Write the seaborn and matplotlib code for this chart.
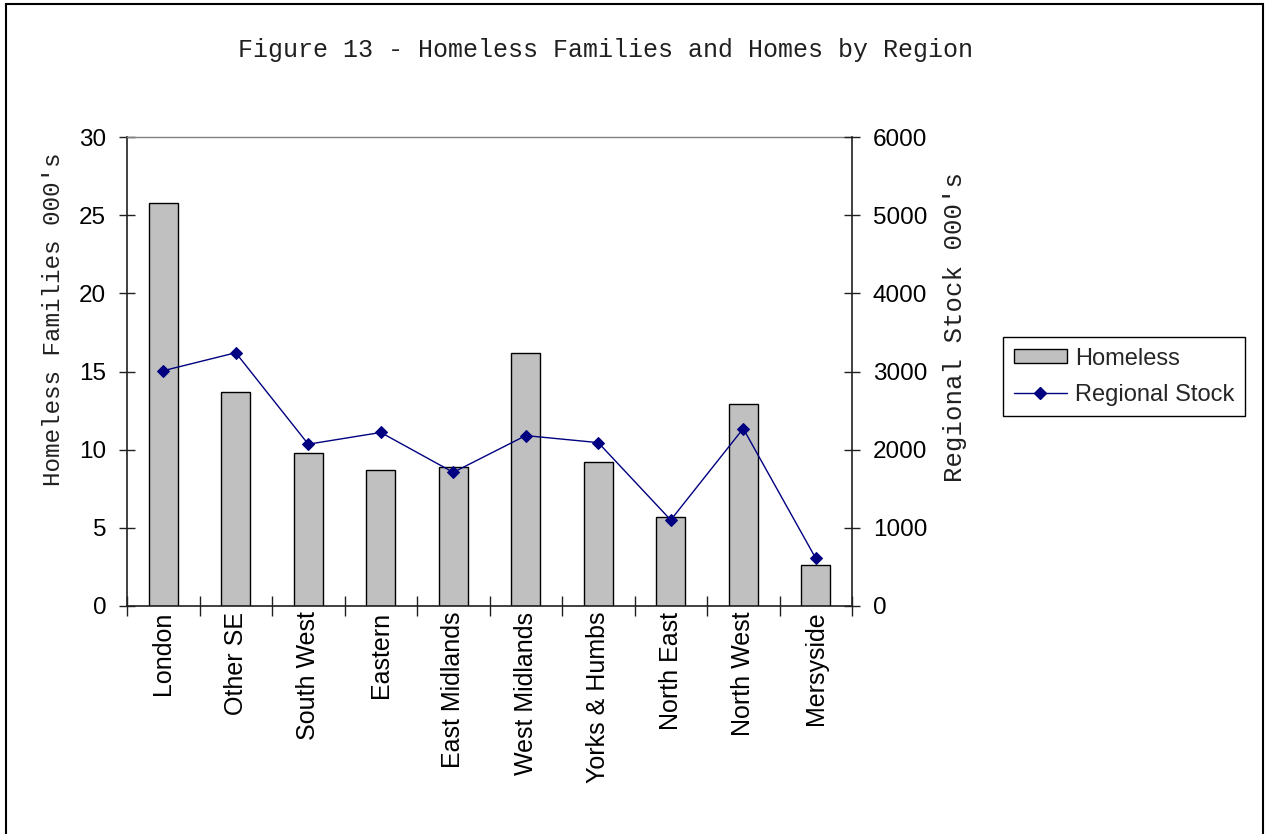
import matplotlib
matplotlib.use("Agg")
import matplotlib.pyplot as plt
import seaborn as sns
import pandas as pd
import numpy as np
from matplotlib.patches import Patch, Rectangle
from matplotlib.lines import Line2D
from matplotlib.ticker import FixedLocator, MultipleLocator

# Homeless families and regional housing stock (thousands), by region
regions = ["London", "Other SE", "South West", "Eastern", "East Midlands",
           "West Midlands", "Yorks & Humbs", "North East", "North West", "Mersyside"]
homeless = [25.8, 13.7, 9.8, 8.7, 8.9, 16.2, 9.2, 5.7, 12.9, 2.6]
regional_stock = [3010, 3240, 2070, 2220, 1710, 2180, 2090, 1100, 2270, 610]

title_text = "Figure 13 - Homeless Families and Homes by Region"
left_label = "Homeless Families 000's"
right_label = "Regional Stock 000's"
bar_name = "Homeless"
line_name = "Regional Stock"

df = pd.DataFrame({"Region": regions, bar_name: homeless, line_name: regional_stock})

sns.set_theme(style="white")
plt.rcParams["font.family"] = ["Liberation Sans", "DejaVu Sans"]

BAR_COLOR = "#c0c0c0"
LINE_COLOR = "#000080"
MONO = "Liberation Mono"

W, H = 1268, 834
fig = plt.figure(figsize=(W / 100, H / 100), dpi=100)
fig.patch.set_facecolor("white")
ax = fig.add_axes([127 / W, 1 - 606 / H, 725 / W, 469 / H])
ax2 = ax.twinx()

sns.barplot(data=df, x="Region", y=bar_name, ax=ax, color=BAR_COLOR,
            saturation=1, width=0.4, edgecolor="black", linewidth=1,
            errorbar=None)
sns.pointplot(data=df, x="Region", y=line_name, ax=ax2, color=LINE_COLOR,
              markers="D", linestyles="-", errorbar=None,
              markersize=6, linewidth=1)

n = len(regions)
ax.set_xlim(-0.5, n - 0.5)
ax.set_ylim(0, 30)
ax2.set_ylim(0, 6000)
ax.yaxis.set_major_locator(MultipleLocator(5))
ax2.yaxis.set_major_locator(MultipleLocator(1000))

# spines
for s in ax.spines.values():
    s.set_visible(True)
ax.spines["right"].set_visible(False)
ax.spines["top"].set_color("#808080")
ax.spines["top"].set_linewidth(1)
for side in ("left", "bottom"):
    ax.spines[side].set_color("#202020")
    ax.spines[side].set_linewidth(1.2)
for side in ("left", "top", "bottom"):
    ax2.spines[side].set_visible(False)
ax2.spines["right"].set_visible(True)
ax2.spines["right"].set_color("#202020")
ax2.spines["right"].set_linewidth(1.2)

# y ticks crossing the axes
ax.tick_params(axis="y", left=True, right=False, direction="inout", length=12,
               width=1, color="#202020", pad=9, labelsize=17.5, labelcolor="black")
ax2.tick_params(axis="y", right=True, left=False, direction="inout", length=12,
                width=1, color="#202020", pad=9, labelsize=17.5, labelcolor="black")

# x: labels at category centres, tick marks between categories
ax.set_xticks(np.arange(n))
ax.set_xticklabels(regions, rotation=90, fontsize=18, color="black")
ax.xaxis.set_minor_locator(FixedLocator(np.arange(-0.5, n, 1.0)))
ax.tick_params(axis="x", which="major", bottom=True, length=0, pad=4)
ax.tick_params(axis="x", which="minor", bottom=True, direction="inout",
               length=15, width=1, color="#202020")
ax.set_xlabel("")
ax2.set_xlabel("")

# axis titles
ax.set_ylabel(left_label, fontfamily=MONO, fontsize=17.5, color="#202020")
ax.yaxis.label.set_va("center")
ax.yaxis.set_label_coords(-0.102, 0.612)
ax2.set_ylabel(right_label, fontfamily=MONO, fontsize=18.5, color="#202020")
ax2.yaxis.label.set_va("center")
ax2.yaxis.set_label_coords(1.142, 0.595)

fig.text(606 / W, 1 - 50 / H, title_text, fontfamily=MONO, fontsize=18,
         ha="center", va="center", color="#202020")

# legend
handles = [
    Patch(facecolor=BAR_COLOR, edgecolor="black", linewidth=1),
    Line2D([0], [0], color=LINE_COLOR, linewidth=1, marker="D", markersize=6,
           markerfacecolor=LINE_COLOR, markeredgecolor=LINE_COLOR),
]
leg = fig.legend(handles, [bar_name, line_name], loc="upper left",
                 bbox_to_anchor=(1003 / W, 1 - 337 / H), borderaxespad=0,
                 fontsize=17, frameon=True, fancybox=False, framealpha=1,
                 edgecolor="black", handlelength=2.25, handleheight=0.55,
                 handletextpad=0.35, borderpad=0.45, labelspacing=0.6)
leg.get_frame().set_linewidth(1)

# chart border
fig.add_artist(Rectangle((6 / W, -0.02), (1263 - 6) / W, 1.02 - 4.5 / H,
                         transform=fig.transFigure, fill=False,
                         edgecolor="black", linewidth=1.5))

fig.savefig("out.png", dpi=100)
